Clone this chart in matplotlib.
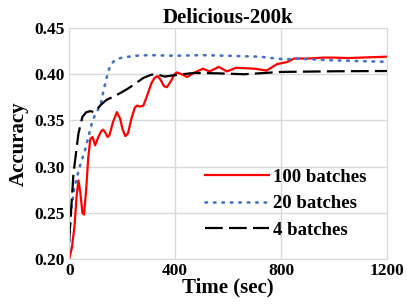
import matplotlib.pyplot as plt

# values
t_100 = [0, 10, 20, 28, 35, 42, 50, 56, 64, 72, 80, 88, 98, 110, 120, 128, 136,
         145, 152, 165, 180, 192, 202, 212, 222, 235, 248, 256, 266, 280, 292,
         310, 322, 334, 345, 358, 369, 385, 397, 407, 425, 445, 475, 505, 530,
         565, 595, 630, 700, 745, 785, 820, 850, 900, 960, 1000, 1050, 1100, 1200]
acc_100 = [0.200, 0.212, 0.235, 0.268, 0.285, 0.272, 0.250, 0.248, 0.275, 0.310,
           0.330, 0.332, 0.323, 0.332, 0.338, 0.340, 0.337, 0.332, 0.334, 0.348,
           0.359, 0.352, 0.340, 0.333, 0.336, 0.352, 0.364, 0.366, 0.365, 0.366,
           0.375, 0.390, 0.396, 0.398, 0.394, 0.387, 0.386, 0.393, 0.400, 0.402,
           0.400, 0.397, 0.402, 0.406, 0.403, 0.408, 0.403, 0.407, 0.406, 0.404,
           0.411, 0.413, 0.417, 0.417, 0.418, 0.418, 0.4175, 0.418, 0.419]

t_20 = [0, 5, 20, 40, 60, 75, 88, 105, 118, 128, 140, 155, 175, 200, 250, 300,
        400, 500, 600, 720, 780, 820, 850, 1000, 1200]
acc_20 = [0.210, 0.249, 0.278, 0.300, 0.318, 0.335, 0.350, 0.360, 0.366, 0.380,
          0.395, 0.410, 0.416, 0.418, 0.420, 0.4207, 0.420, 0.4207, 0.420, 0.419,
          0.417, 0.416, 0.417, 0.415, 0.4134]

t_4 = [0, 16, 35, 50, 65, 80, 95, 120, 142, 170, 195, 225, 250, 280, 310, 330,
       360, 400, 470, 560, 660, 800, 1000, 1200]
acc_4 = [0.220, 0.292, 0.336, 0.354, 0.359, 0.360, 0.359, 0.367, 0.3725, 0.376,
         0.380, 0.385, 0.390, 0.396, 0.3995, 0.400, 0.3975, 0.399, 0.4014, 0.401,
         0.400, 0.4025, 0.4032, 0.4035]

xticks = [0, 400, 800, 1200]
yticks = [0.20, 0.25, 0.30, 0.35, 0.40, 0.45]

plt.rcParams['font.family'] = ['Liberation Serif', 'DejaVu Serif']
plt.rcParams['font.weight'] = 'bold'

fig = plt.figure(figsize=(4.07, 3.05), dpi=100)
ax = fig.add_axes([0.170, 0.151, 0.781, 0.757])

ax.plot(t_100, acc_100, color='#ff0000', lw=1.6, label='100 batches')
ax.plot(t_20, acc_20, color='#4472c4', lw=1.9, linestyle=(0, (0.6, 2.6)),
        dash_capstyle='round', label='20 batches')
ax.plot(t_4, acc_4, color='black', lw=1.6, linestyle=(0, (8, 2.8)),
        label='4 batches')

ax.set_xlim(0, 1200)
ax.set_ylim(0.20, 0.45)
ax.set_xticks(xticks)
ax.set_yticks(yticks)
ax.set_yticklabels([f"{v:.2f}" for v in yticks])
ax.tick_params(length=0, labelsize=12.5, pad=3)
for lab in ax.get_xticklabels() + ax.get_yticklabels():
    lab.set_fontweight('bold')

ax.grid(True, color='#d9d9d9', lw=1)
ax.set_axisbelow(True)
for s in ax.spines.values():
    s.set_color('#d9d9d9')

ax.set_title('Delicious-200k', fontsize=15, fontweight='bold', pad=4)
ax.set_xlabel('Time (sec)', fontsize=15, fontweight='bold', labelpad=-1)
ax.set_ylabel('Accuracy', fontsize=15, fontweight='bold', labelpad=4)

ax.legend(loc='upper left', bbox_to_anchor=(0.375, 0.465), frameon=False,
          prop={'size': 13.5, 'weight': 'bold'}, handlelength=3.4,
          handletextpad=0.2, labelspacing=0.5)

plt.savefig('out.png', dpi=100)
